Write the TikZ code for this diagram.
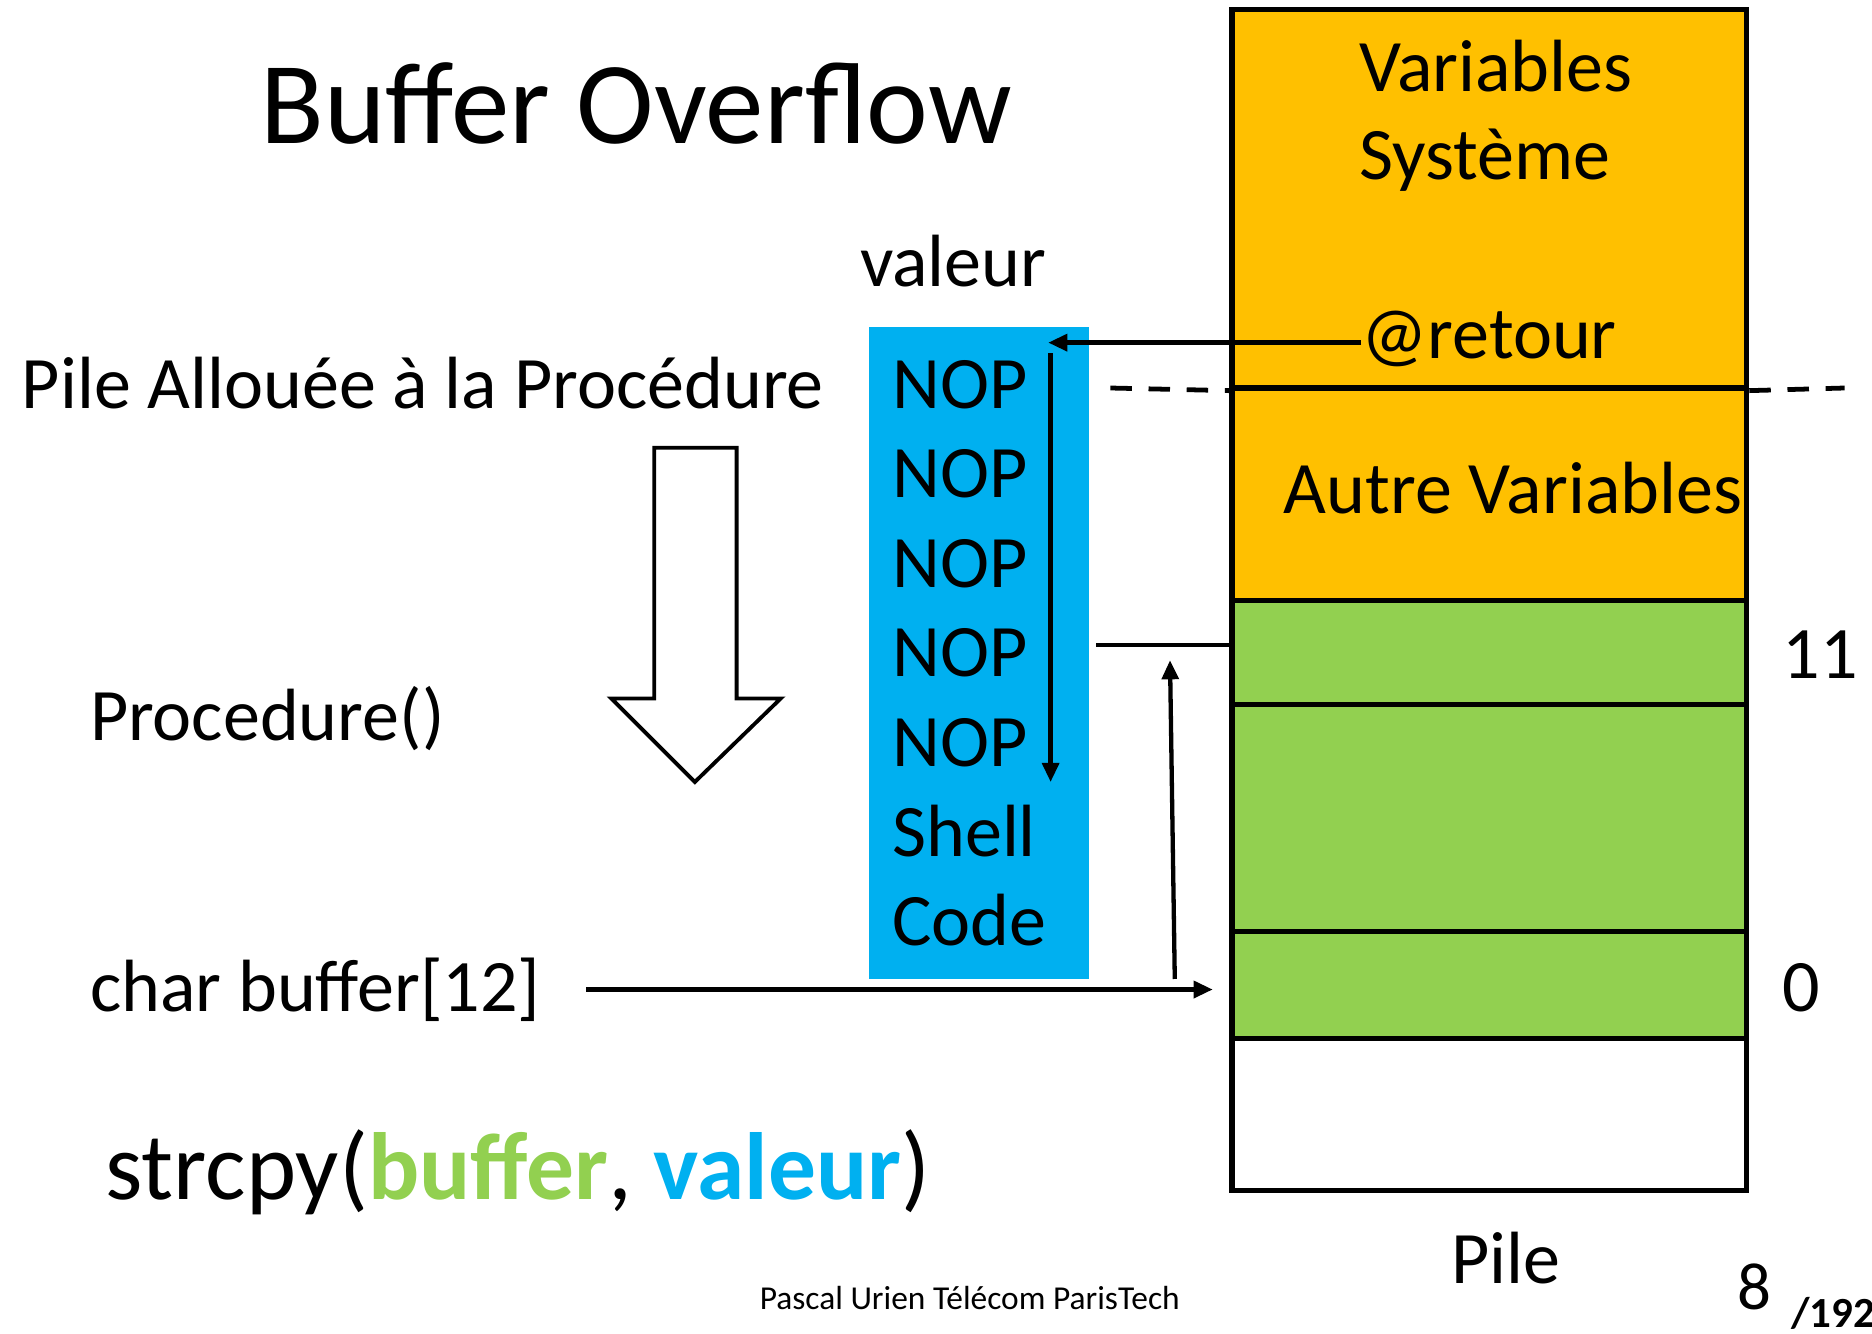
\documentclass[tikz,border=0pt]{standalone}
\usepackage{fontspec}
\setmainfont{Carlito}
\usetikzlibrary{arrows.meta}
\definecolor{orng}{HTML}{FFC000}
\definecolor{grn}{HTML}{92D050}
\definecolor{blu}{HTML}{00B0F0}
\begin{document}
\begin{tikzpicture}[x=0.5pt,y=-0.5pt,
  txt/.style={inner sep=0,anchor=base west,font=\fontsize{31}{37}\selectfont},
  cell/.style={draw=black,line width=2.2pt,minimum width=215.5pt,inner sep=0},
  conn/.style={line width=1.8pt},
  arr/.style={conn,-{Triangle[length=8pt,width=7pt]}}]
\useasboundingbox (0,0) rectangle (1568,1117);
% stack
\node[cell,fill=orng,minimum height=158.5pt] (sys) at (1247.5,166.5) {};
\node[cell,fill=orng,minimum height=89pt] (autre) at (1247.5,414) {};
\node[cell,fill=grn,minimum height=43.5pt] (c11) at (1247.5,546.5) {};
\node[cell,fill=grn,minimum height=95pt] (cmid) at (1247.5,685) {};
\node[cell,fill=grn,minimum height=45pt] (c0) at (1247.5,825) {};
\node[cell,fill=white,minimum height=63.5pt] (free) at (1247.5,933.5) {};
\node[txt] (v1) at (1138,77) {Variables};
\node[txt] (v2) at (1138,150) {Système};
\node[txt] (retour) at (1140,300) {@retour};
\node[txt] (av) at (1075,430) {Autre Variables};
\node[txt] (n11) at (1493,568) {11};
\node[txt] (n0) at (1493,847) {0};
\node[txt] (pile) at (1215,1075) {Pile};
% dashed frame line
\coordinate (dl) at (930,325);
\coordinate (dr) at (1545,325);
\draw[line width=2pt,dash pattern=on 9pt off 7pt] (dl) -- (sys.south west);
\draw[line width=2pt,dash pattern=on 9pt off 7pt] (sys.south east) -- (dr);
% title and left texts
\node[txt,font=\fontsize{49}{57}\selectfont] (title) at (218,120) {Buffer Overflow};
\node[txt] (pa) at (18,342) {Pile Allouée à la Procédure};
\node[txt] (proc) at (75,620) {Procedure()};
\node[txt] (cb) at (75,847) {char buffer[12]};
\node[txt,font=\fontsize{40}{48}\selectfont] (cpy) at (88,1005) {strcpy(\textcolor{grn}{\textbf{buffer}}, \textcolor{blu}{\textbf{valeur}})};
\node[txt,font=\fontsize{14}{16}\selectfont] (foot) at (636,1097) {Pascal Urien Télécom ParisTech};
\node[txt,font=\fontsize{28}{32}\selectfont] (pg) at (1455,1097) {8};
\node[txt,font=\fontsize{18}{20}\selectfont\bfseries] (tot) at (1500,1112) {/192};
% hollow arrow
\draw[line width=1.6pt,fill=white] (548,375) -- (617,375) -- (617,585) -- (654,585) -- (582,655) -- (512,585) -- (548,585) -- cycle;
% value block
\node[txt] (valeur) at (720,240) {valeur};
\node[fill=blu,minimum width=92pt,minimum height=273pt,inner sep=0] (val) at (820,547) {};
\foreach \i in {0,...,4}{
  \node[txt] (nop\i) at (747,342+75*\i) {NOP};
}
\node[txt] (shell) at (747,717) {Shell};
\node[txt] (code) at (747,792) {Code};
\coordinate (nopA) at (880,296);
\coordinate (nopB) at (880,655);
\draw[arr] (nopA) -- (nopB);
% connectors
\coordinate (rtip) at (878,287);
\draw[arr] (retour.west |- rtip) -- (rtip);
\draw[conn] ([xshift=3pt]val.east |- 0,540) -- (c11.west |- 0,540);
\coordinate (upA) at (984,820);
\coordinate (upB) at (980,553);
\draw[arr] (upA) -- (upB);
\draw[arr] ([xshift=19pt]cb.east) -- ([xshift=-7pt]c0.west |- cb.east);
\end{tikzpicture}
\end{document}
